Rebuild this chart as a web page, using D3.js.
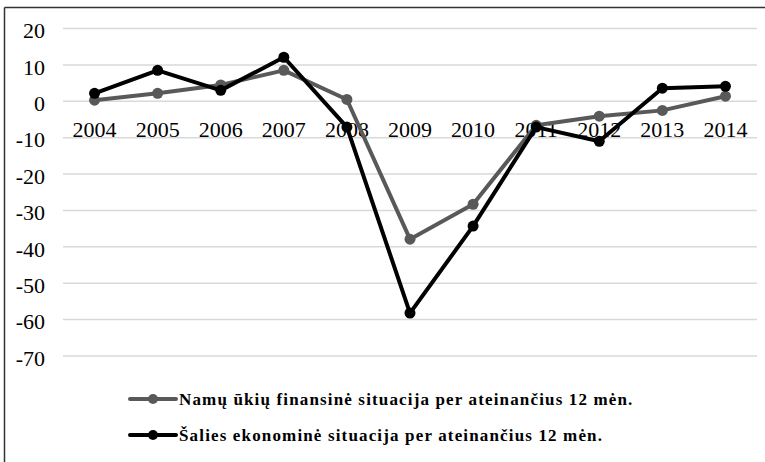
<!DOCTYPE html>
<html><head><meta charset="utf-8">
<script src="https://cdn.jsdelivr.net/npm/d3@7"></script>
<style>body{margin:0;background:#fff}svg{display:block}text{font-family:"Liberation Serif","Times New Roman",serif}</style>
</head><body>
<svg id="c" width="765" height="462"></svg>
<script>
const years = ["2004","2005","2006","2007","2008","2009","2010","2011","2012","2013","2014"];
const namuUkiu = [0.3, 2.2, 4.5, 8.5, 0.5, -37.9, -28.3, -6.6, -4.1, -2.5, 1.4];
const saliesEkon = [2.2, 8.5, 3.0, 12.1, -7.1, -58.2, -34.3, -7.1, -11.0, 3.6, 4.1];
const yTicks = [20, 10, 0, -10, -20, -30, -40, -50, -60, -70];
const seriesNames = ["Namų ūkių finansinė situacija per ateinančius 12 mėn.", "Šalies ekonominė situacija per ateinančius 12 mėn."];
const seriesColors = ["#595959", "#000000"];

const svg = d3.select("#c");
const font = "Liberation Serif";

svg.append("line").attr("x1",4.5).attr("x2",765).attr("y1",7.5).attr("y2",7.5).attr("stroke","#333").attr("stroke-width",1.5);
svg.append("line").attr("x1",4.5).attr("x2",4.5).attr("y1",7.5).attr("y2",462).attr("stroke","#333").attr("stroke-width",1.5);

const x = d3.scaleBand().domain(years).range([63, 757]);
const y = d3.scaleLinear().domain([-70, 20]).range([356, 28.5]);

const grid = svg.append("g");
grid.selectAll("line").data(yTicks).join("line")
  .attr("x1",63).attr("x2",757).attr("y1",d=>y(d)).attr("y2",d=>y(d))
  .attr("stroke","#d9d9d9").attr("stroke-width",1.5);

const yAxis = svg.append("g").attr("transform","translate(63,0)")
  .call(d3.axisLeft(y).tickValues(yTicks).tickSize(0).tickPadding(18).tickFormat(d=>String(d)));
yAxis.select(".domain").remove();
yAxis.attr("font-family",null);
yAxis.selectAll("text").style("font-family",font).style("font-size","22px").attr("fill","#000").attr("dy","0.42em");

const xAxis = svg.append("g").attr("transform",`translate(0,${y(0)})`)
  .call(d3.axisBottom(x).tickSize(0));
xAxis.select(".domain").remove();
xAxis.attr("font-family",null);
xAxis.selectAll("text").style("font-family",font).style("font-size","22px").attr("fill","#000").attr("y",36).attr("dy",0);

const data = [namuUkiu, saliesEkon];
const line = d3.line().x((d,i)=>x(years[i])+x.bandwidth()/2).y(d=>y(d));
data.forEach((s,k)=>{
  const g = svg.append("g");
  g.append("path").datum(s).attr("d",line).attr("fill","none")
    .attr("stroke",seriesColors[k]).attr("stroke-width",4).attr("stroke-linejoin","round");
  g.selectAll("circle").data(s).join("circle")
    .attr("cx",(d,i)=>x(years[i])+x.bandwidth()/2).attr("cy",d=>y(d)).attr("r",5.5)
    .attr("fill",seriesColors[k]);
});

const leg = svg.append("g");
seriesNames.forEach((n,k)=>{
  const ly = 399 + k*36;
  leg.append("line").attr("x1",130).attr("x2",176).attr("y1",ly).attr("y2",ly)
    .attr("stroke",seriesColors[k]).attr("stroke-width",4).attr("stroke-linecap","round");
  leg.append("circle").attr("cx",153).attr("cy",ly).attr("r",5).attr("fill",seriesColors[k]);
  leg.append("text").attr("x",179).attr("y",ly).attr("dy","0.35em")
    .style("font-family",font).style("font-size","17px").style("letter-spacing","1.15px")
    .attr("font-weight","bold").attr("fill","#000").text(n);
});
</script>
</body></html>
